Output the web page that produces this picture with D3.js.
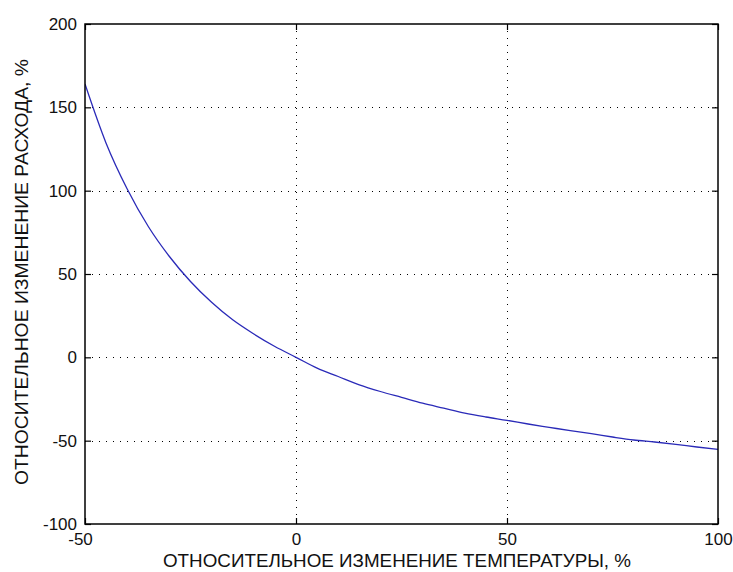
<!DOCTYPE html>
<html>
<head>
<meta charset="utf-8">
<script src="https://cdnjs.cloudflare.com/ajax/libs/d3/7.8.5/d3.min.js"></script>
<style>
  html, body { margin: 0; padding: 0; background: #fff; }
  svg { display: block; }
  text { font-family: "Liberation Sans", Arial, Helvetica, sans-serif; fill: #111; }
</style>
</head>
<body>
<svg id="chart" width="733" height="572"></svg>
<script>
// ---- data ----
const tempChange = [-50, -45, -40, -35, -30, -25, -20, -15, -10, -5, 0, 5, 10, 15, 20, 25, 30, 35, 40, 45, 50, 55, 60, 65, 70, 75, 80, 85, 90, 95, 100];
const flowChange = [164, 128.5, 101, 78.5, 60.5, 45.5, 33, 22.5, 14, 6.5, 0, -6.5, -11.5, -16.5, -20.5, -24, -27.5, -30.5, -33.5, -35.8, -37.8, -40, -42, -44, -45.8, -47.8, -49.6, -50.8, -52.2, -53.8, -55.2];
const xTicks = [-50, 0, 50, 100];
const yTicks = [-100, -50, 0, 50, 100, 150, 200];
const xLabel = "ОТНОСИТЕЛЬНОЕ ИЗМЕНЕНИЕ ТЕМПЕРАТУРЫ, %";
const yLabel = "ОТНОСИТЕЛЬНОЕ ИЗМЕНЕНИЕ РАСХОДА, %";

const svg = d3.select("#chart");
const margin = {left: 85, top: 24, right: 733 - 718, bottom: 572 - 524};
const W = 733 - margin.left - margin.right;
const H = 572 - margin.top - margin.bottom;

const x = d3.scaleLinear().domain([-50, 100]).range([0, W]);
const y = d3.scaleLinear().domain([-100, 200]).range([H, 0]);

const g = svg.append("g").attr("transform", `translate(${margin.left},${margin.top})`);

g.append("rect").attr("width", W).attr("height", H).attr("fill", "#fff");

// grid (dotted)
const grid = g.append("g").attr("stroke", "#000").attr("stroke-width", 1).attr("stroke-dasharray", "1,6");
grid.selectAll(".gx").data(xTicks.filter(d => d > -50 && d < 100)).enter().append("line")
  .attr("x1", d => Math.round(x(d)) + 0.5).attr("x2", d => Math.round(x(d)) + 0.5)
  .attr("y1", 0).attr("y2", H);
grid.selectAll(".gy").data(yTicks.filter(d => d > -100 && d < 200)).enter().append("line")
  .attr("y1", d => Math.round(y(d)) + 0.5).attr("y2", d => Math.round(y(d)) + 0.5)
  .attr("x1", 0).attr("x2", W);

// clip
svg.append("defs").append("clipPath").attr("id", "clip")
  .append("rect").attr("width", W).attr("height", H);

// curve
const line = d3.line().x((d, i) => x(tempChange[i])).y((d, i) => y(flowChange[i])).curve(d3.curveMonotoneX);
g.append("path").datum(flowChange)
  .attr("clip-path", "url(#clip)")
  .attr("fill", "none").attr("stroke", "#2a2ab8").attr("stroke-width", 1.3)
  .attr("d", line);

// axes
const fmt = d => String(d);
function styleAxis(sel) {
  sel.select(".domain").remove();
  sel.selectAll(".tick line").attr("stroke", "#000").attr("stroke-width", 1.2);
  sel.selectAll(".tick text").attr("font-size", 17).style("fill", "#111");
}
const xb = g.append("g").attr("transform", `translate(0,${H})`)
  .call(d3.axisBottom(x).tickValues(xTicks).tickSizeInner(-6).tickSizeOuter(0).tickPadding(9).tickFormat(fmt));
styleAxis(xb);
xb.selectAll(".tick text").filter(d => d === -50).attr("dx", -5);

const yl = g.append("g")
  .call(d3.axisLeft(y).tickValues(yTicks).tickSizeInner(-6).tickSizeOuter(0).tickPadding(8).tickFormat(fmt));
styleAxis(yl);

const xt = g.append("g").call(d3.axisTop(x).tickValues(xTicks).tickSizeInner(-6).tickSizeOuter(0).tickFormat(""));
styleAxis(xt);
const yr = g.append("g").attr("transform", `translate(${W},0)`)
  .call(d3.axisRight(y).tickValues(yTicks).tickSizeInner(-6).tickSizeOuter(0).tickFormat(""));
styleAxis(yr);

// box
g.append("rect").attr("x", 0).attr("y", 0).attr("width", W).attr("height", H)
  .attr("fill", "none").attr("stroke", "#000").attr("stroke-width", 1.5);

// axis labels
svg.append("text")
  .attr("x", 163).attr("y", 567)
  .attr("font-size", 17.5)
  .attr("textLength", 468).attr("lengthAdjust", "spacingAndGlyphs")
  .text(xLabel);

svg.append("text")
  .attr("transform", "translate(28,485) rotate(-90)")
  .attr("x", 0).attr("y", 0)
  .attr("font-size", 18)
  .attr("textLength", 426).attr("lengthAdjust", "spacingAndGlyphs")
  .text(yLabel);
</script>
</body>
</html>
